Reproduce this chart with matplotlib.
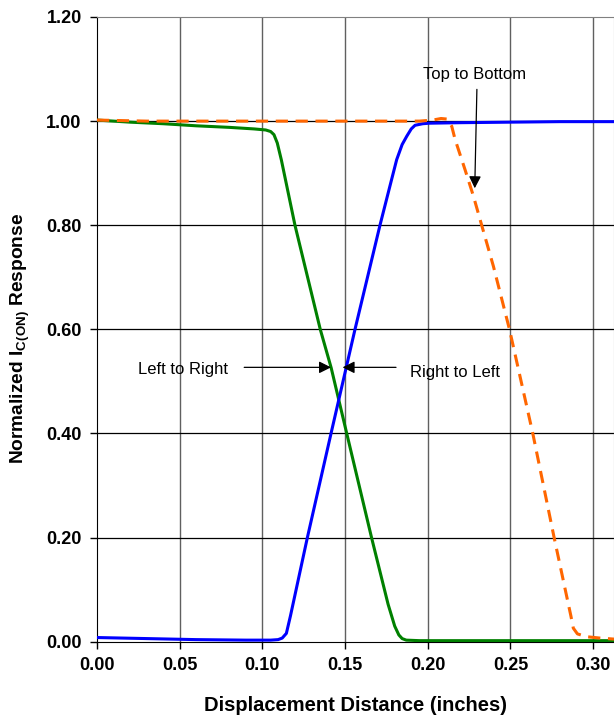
import numpy as np
import matplotlib.pyplot as plt

plt.rcParams['font.family'] = ['Liberation Sans', 'DejaVu Sans']
plt.rcParams['mathtext.fontset'] = 'custom'
plt.rcParams['mathtext.rm'] = 'Liberation Sans'
plt.rcParams['mathtext.bf'] = 'Liberation Sans:bold'

# Left to Right (green)
x_lr = [0, 0.02, 0.04, 0.06, 0.08, 0.095, 0.102, 0.105, 0.107, 0.109, 0.1115,
        0.1197, 0.135, 0.1416, 0.151, 0.166, 0.176, 0.180, 0.1825, 0.1845,
        0.187, 0.195, 0.22, 0.25, 0.28, 0.3126]
y_lr = [1.002, 0.998, 0.995, 0.991, 0.988, 0.985, 0.983, 0.980, 0.974, 0.958,
        0.925, 0.80, 0.60, 0.526, 0.40, 0.20, 0.072, 0.030, 0.013, 0.006,
        0.003, 0.002, 0.002, 0.002, 0.002, 0.002]

# Right to Left (blue)
x_rl = [0, 0.03, 0.06, 0.09, 0.105, 0.1095, 0.112, 0.1145, 0.117, 0.1272,
        0.1415, 0.156, 0.1711, 0.1775, 0.1812, 0.1845, 0.1873, 0.1900, 0.1923,
        0.197, 0.201, 0.22, 0.25, 0.28, 0.3126]
y_rl = [0.008, 0.006, 0.004, 0.003, 0.003, 0.004, 0.007, 0.016, 0.05, 0.20,
        0.40, 0.60, 0.80, 0.88, 0.926, 0.955, 0.971, 0.985, 0.992,
        0.995, 0.996, 0.997, 0.998, 0.999, 0.999]

# Top to Bottom (orange dashed)
x_tb = [0, 0.03, 0.06, 0.09, 0.12, 0.15, 0.18, 0.195, 0.203, 0.208, 0.2115,
        0.2145, 0.2165, 0.2225, 0.2276, 0.2326, 0.2397, 0.2494, 0.2635, 0.2764,
        0.284, 0.2865, 0.288, 0.2905, 0.296, 0.304, 0.3126]
y_tb = [1.002, 1.0, 1.0, 1.0, 1.0, 1.0, 1.0, 1.0, 1.002, 1.005, 1.004,
        0.99, 0.965, 0.907, 0.856, 0.80, 0.721, 0.60, 0.40, 0.20,
        0.087, 0.05, 0.026, 0.015, 0.0096, 0.007, 0.005]

xticks = [0.00, 0.05, 0.10, 0.15, 0.20, 0.25, 0.30]
yticks = [0.0, 0.2, 0.4, 0.6, 0.8, 1.0, 1.2]

fig = plt.figure(figsize=(6.14, 7.17), dpi=100)
ax = fig.add_axes([97 / 614, 75.3 / 717, 517 / 614, 624.7 / 717])

for xv in xticks[1:]:
    ax.axvline(xv, color='#606060', lw=1, zorder=1)
for yv in yticks[1:-1]:
    ax.axhline(yv, color='black', lw=0.9, zorder=1)

ax.plot(x_lr, y_lr, color='#008000', lw=2.2, zorder=3)
ax.plot(x_rl, y_rl, color='#0000FF', lw=2.2, zorder=3)
ax.plot(x_tb, y_tb, color='#FF6600', lw=2.2, dashes=(4, 2.5), zorder=4)

ax.set_xlim(0, 0.3126)
ax.set_ylim(0, 1.2)
ax.set_xticks(xticks)
ax.set_yticks(yticks)
ax.set_xticklabels([f"{v:.2f}" for v in xticks], fontsize=13, fontweight='bold')
ax.set_yticklabels([f"{v:.2f}" for v in yticks], fontsize=13, fontweight='bold')
ax.tick_params(direction='out', length=5, width=1, color='black', pad=6)

for s in ['top', 'right']:
    ax.spines[s].set_color('#808080')
for s in ['left', 'bottom']:
    ax.spines[s].set_color('black')

ax.set_xlabel("Displacement Distance (inches)", fontsize=14.5, fontweight='bold', labelpad=15.5)
ax.set_ylabel(r"Normalized I$_{\mathbf{C(ON)}}$ Response", fontsize=13.8, fontweight='bold')
ax.yaxis.set_label_coords(-0.1255, 0.485)

arrow = dict(arrowstyle='-|>', color='black', lw=0.9, mutation_scale=18, shrinkA=0, shrinkB=0)
ax.annotate("", xy=(0.1415, 0.527), xytext=(0.0890, 0.527), arrowprops=arrow)
ax.text(0.052, 0.522, "Left to Right", fontsize=12, ha='center', va='center')
ax.annotate("", xy=(0.1485, 0.527), xytext=(0.1808, 0.527), arrowprops=arrow)
ax.text(0.2165, 0.518, "Right to Left", fontsize=12, ha='center', va='center')
ax.annotate("", xy=(0.2284, 0.871), xytext=(0.2297, 1.061), arrowprops=arrow)
ax.text(0.228, 1.09, "Top to Bottom", fontsize=12, ha='center', va='center')

fig.savefig("out.png", dpi=100)
